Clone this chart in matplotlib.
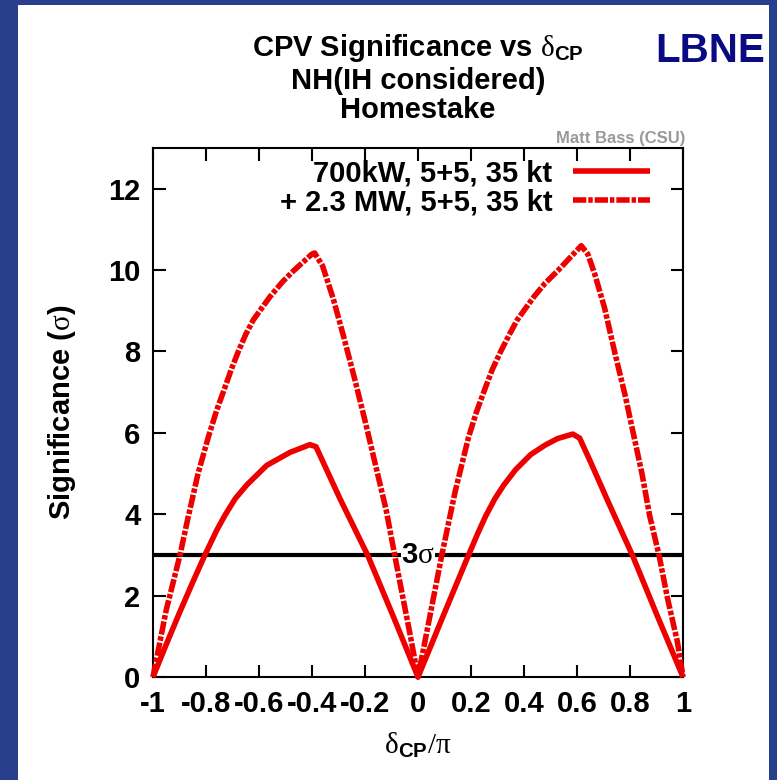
import matplotlib
matplotlib.use('Agg')
import matplotlib.pyplot as plt
from matplotlib.patches import Rectangle
import numpy as np

plt.rcParams['font.family'] = 'Liberation Sans'
plt.rcParams['font.weight'] = 'bold'
plt.rcParams['axes.unicode_minus'] = False
plt.rcParams['mathtext.fontset'] = 'custom'
plt.rcParams['mathtext.rm'] = 'Liberation Serif:weight=normal'
plt.rcParams['mathtext.bf'] = 'Liberation Sans:bold'
plt.rcParams['mathtext.sf'] = 'Liberation Sans:bold'

# 700 kW beam, 5+5 years, 35 kt
low_x = [-1.0, -0.95, -0.90, -0.85, -0.804, -0.76, -0.728, -0.69, -0.646, -0.571,
         -0.483, -0.408, -0.385, -0.295, -0.189, -0.094, 0.0, 0.095, 0.191,
         0.225, 0.255, 0.29, 0.324, 0.369, 0.426, 0.48, 0.527, 0.584, 0.61,
         0.65, 0.72, 0.81, 0.90, 1.0]
low_sig = [0.0, 0.8, 1.58, 2.33, 3.0, 3.6, 3.98, 4.38, 4.72, 5.2,
           5.52, 5.71, 5.66, 4.39, 2.98, 1.5, 0.0, 1.5, 3.0,
           3.52, 3.95, 4.38, 4.72, 5.1, 5.47, 5.7, 5.86, 5.97, 5.87,
           5.3, 4.27, 2.98, 1.55, 0.0]

# + 2.3 MW upgrade
high_x = [-1.0, -0.95, -0.898, -0.87, -0.83, -0.791, -0.76, -0.735, -0.705, -0.678,
          -0.65, -0.621, -0.558, -0.51, -0.47, -0.401, -0.39, -0.36, -0.32, -0.28,
          -0.24, -0.20, -0.16, -0.12, -0.088, -0.06, -0.03, 0.0,
          0.045, 0.09, 0.14, 0.191, 0.22, 0.248, 0.28, 0.312, 0.345, 0.375,
          0.438, 0.48, 0.527, 0.616, 0.641, 0.667, 0.704, 0.743, 0.781, 0.813,
          0.846, 0.874, 0.91, 0.941, 0.979, 1.0]
high_sig = [0.0, 1.65, 3.0, 3.85, 5.0, 5.9, 6.55, 7.0, 7.55, 8.0,
            8.42, 8.78, 9.35, 9.72, 9.98, 10.39, 10.42, 10.1, 9.3, 8.35,
            7.35, 6.3, 5.2, 4.1, 3.0, 2.05, 1.05, 0.0,
            1.5, 3.0, 4.55, 5.9, 6.5, 7.0, 7.55, 8.0, 8.42, 8.78,
            9.35, 9.68, 9.98, 10.6, 10.39, 9.9, 9.07, 7.96, 6.94, 5.97,
            4.97, 3.97, 2.98, 1.95, 0.86, 0.0]

labels = ['700kW, 5+5, 35 kt', '+ 2.3 MW, 5+5, 35 kt']
threshold = 3.0

xticks = [-1, -0.8, -0.6, -0.4, -0.2, 0, 0.2, 0.4, 0.6, 0.8, 1]
xticklabels = ['-1', '-0.8', '-0.6', '-0.4', '-0.2', '0', '0.2', '0.4', '0.6', '0.8', '1']
yticks = [0, 2, 4, 6, 8, 10, 12]

W, H = 777, 780
fig = plt.figure(figsize=(W / 100, H / 100), dpi=100)
fig.patch.set_facecolor('#283f8e')
fig.patches.append(Rectangle((18 / W, 0), (769 - 18) / W, (H - 5) / H,
                             transform=fig.transFigure, facecolor='white',
                             edgecolor='none', zorder=-5))

ax = fig.add_axes([153 / W, 1 - 677 / H, (683 - 153) / W, (677 - 148) / H])
ax.set_facecolor('white')

ax.axhline(threshold, color='black', lw=3, zorder=2)
ax.text(0, threshold, r'3$\mathrm{\sigma}$', fontsize=21, ha='center', va='center',
        zorder=3, bbox=dict(facecolor='white', edgecolor='none', pad=0.5))

ax.plot(low_x, low_sig, color='#ee0000', lw=4, label=labels[0], zorder=4,
        clip_on=False, solid_capstyle='butt')
ax.plot(high_x, high_sig, color='#ee0000', lw=4, label=labels[1], zorder=4,
        clip_on=False, linestyle=(0, (2.4, 0.35, 0.8, 0.35)))

ax.set_xlim(-1, 1)
ax.set_ylim(0, 13)
ax.set_xticks(xticks)
ax.set_xticklabels(xticklabels)
ax.set_yticks(yticks)
ax.tick_params(direction='in', length=9, width=1.5, top=True, right=True,
               labelsize=21, pad=9)
for sp in ax.spines.values():
    sp.set_linewidth(1.5)

leg = ax.legend(loc='upper right', bbox_to_anchor=(0.938, 0.979), frameon=False,
                markerfirst=False, fontsize=21, handlelength=2.65,
                handletextpad=0.7, labelspacing=0.04, borderpad=0,
                borderaxespad=0)

# titles and annotations
fig.text(418 / W, 1 - 56 / H, r'CPV Significance vs $\mathrm{\delta}_{\mathbf{CP}}$',
         fontsize=21, ha='center', va='baseline')
fig.text(418 / W, 1 - 89 / H, 'NH(IH considered)', fontsize=21, ha='center', va='baseline')
fig.text(418 / W, 1 - 118 / H, 'Homestake', fontsize=21, ha='center', va='baseline')
fig.text(765 / W, 1 - 62 / H, 'LBNE', fontsize=29, color='#0a0a82', ha='right', va='baseline')
fig.text(685 / W, 1 - 143 / H, 'Matt Bass (CSU)', fontsize=12, color='#999999',
         ha='right', va='baseline')

fig.text(62 / W, 1 - 412 / H, r'Significance ($\mathrm{\sigma}$)', fontsize=21,
         rotation=90, ha='center', va='center')
fig.text(418 / W, 1 - 745 / H, r'$\mathrm{\delta}_{\mathbf{CP}}\mathrm{/\pi}$', fontsize=21,
         ha='center', va='center')

fig.savefig('out.png', dpi=100, facecolor=fig.get_facecolor())
